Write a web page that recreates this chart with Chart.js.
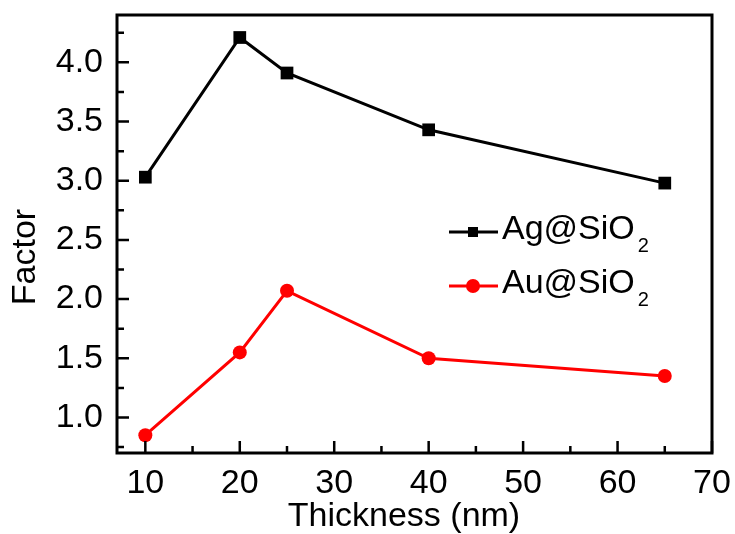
<!DOCTYPE html>
<html>
<head>
<meta charset="utf-8">
<script src="https://cdn.jsdelivr.net/npm/chart.js@4"></script>
<style>
  html, body { margin: 0; padding: 0; background: #fff; }
  #wrap { width: 735px; height: 534px; }
</style>
</head>
<body>
<div id="wrap"><canvas id="c" width="735" height="534"></canvas></div>
<script>
// data
const thickness = [10, 20, 25, 40, 65];
const agFactor = [3.03, 4.21, 3.91, 3.43, 2.98];
const auFactor = [0.85, 1.55, 2.07, 1.50, 1.35];
const xTicks = [10, 20, 30, 40, 50, 60, 70];
const yTicks = [1.0, 1.5, 2.0, 2.5, 3.0, 3.5, 4.0];
const xTitle = 'Thickness (nm)';
const yTitle = 'Factor';

const FONT = "'Liberation Sans', Arial, sans-serif";
const FS = 34;

const toPoints = (ys) => thickness.map((x, i) => ({ x: x, y: ys[i] }));

// frame + inward ticks, like the origin style plot
const frameTicks = {
  id: 'frameTicks',
  afterDatasetsDraw(chart) {
    const { ctx, chartArea: a, scales } = chart;
    ctx.save();
    ctx.strokeStyle = '#000';
    ctx.lineWidth = 3;
    ctx.strokeRect(a.left, a.top, a.right - a.left, a.bottom - a.top);
    ctx.lineWidth = 2.5;
    ctx.beginPath();
    for (let v = 5; v <= 70; v += 5) {
      if (v < scales.x.min || v > scales.x.max) continue;
      const px = scales.x.getPixelForValue(v);
      const len = v % 10 === 0 ? 12 : 7;
      ctx.moveTo(px, a.bottom);
      ctx.lineTo(px, a.bottom - len);
    }
    for (let v = 0.75; v <= 4.4; v += 0.25) {
      const py = scales.y.getPixelForValue(v);
      const len = Math.abs(v * 2 - Math.round(v * 2)) < 0.01 ? 12 : 7;
      ctx.moveTo(a.left, py);
      ctx.lineTo(a.left + len, py);
    }
    ctx.stroke();
    ctx.restore();
  }
};

// axis titles + legend with subscripts
const legendBox = {
  id: 'legendBox',
  afterDraw(chart) {
    const ctx = chart.ctx;
    ctx.save();
    ctx.fillStyle = '#000';
    ctx.font = FS + 'px ' + FONT;
    ctx.textAlign = 'center';
    ctx.textBaseline = 'alphabetic';
    ctx.fillText(xTitle, 404, 526);
    ctx.save();
    ctx.translate(35, 257);
    ctx.rotate(-Math.PI / 2);
    ctx.fillText(yTitle, 0, 0);
    ctx.restore();

    const rows = [
      { label: 'Ag@SiO', color: '#000', style: 'rect', y: 232 },
      { label: 'Au@SiO', color: '#ff0000', style: 'circle', y: 286 }
    ];
    rows.forEach(r => {
      ctx.strokeStyle = r.color;
      ctx.fillStyle = r.color;
      ctx.lineWidth = 3;
      ctx.beginPath();
      ctx.moveTo(449, r.y);
      ctx.lineTo(498, r.y);
      ctx.stroke();
      if (r.style === 'rect') {
        ctx.fillRect(468, r.y - 5, 10, 10);
      } else {
        ctx.beginPath();
        ctx.arc(473, r.y, 7, 0, Math.PI * 2);
        ctx.fill();
      }
      ctx.fillStyle = '#000';
      ctx.textBaseline = 'alphabetic';
      ctx.textAlign = 'left';
      ctx.font = FS + 'px ' + FONT;
      ctx.fillText(r.label, 502, r.y + 7);
      const w = ctx.measureText(r.label).width;
      ctx.font = '20px ' + FONT;
      ctx.fillText('2', 502 + w + 3, r.y + 20);
    });
    ctx.restore();
  }
};

new Chart(document.getElementById('c'), {
  type: 'line',
  data: {
    datasets: [
      {
        label: 'Ag@SiO2',
        data: toPoints(agFactor),
        borderColor: '#000',
        backgroundColor: '#000',
        borderWidth: 3,
        pointStyle: 'rect',
        pointRadius: 9,
        pointBorderWidth: 0,
        tension: 0
      },
      {
        label: 'Au@SiO2',
        data: toPoints(auFactor),
        borderColor: '#ff0000',
        backgroundColor: '#ff0000',
        borderWidth: 3,
        pointStyle: 'circle',
        pointRadius: 7,
        pointBorderWidth: 0,
        tension: 0
      }
    ]
  },
  options: {
    responsive: false,
    animation: false,
    layout: { padding: { left: 0, top: 15, right: 23, bottom: 0 } },
    plugins: {
      legend: { display: false },
      tooltip: { enabled: false }
    },
    scales: {
      x: {
        type: 'linear',
        min: 7,
        max: 70,
        afterFit(s) { s.height = 81; s.paddingLeft = 0; s.paddingRight = 0; },
        afterBuildTicks(s) { s.ticks = xTicks.map(v => ({ value: v })); },
        grid: { drawOnChartArea: false, drawTicks: false },
        border: { display: false },
        ticks: {
          color: '#000',
          font: { family: FONT, size: FS },
          padding: 10,
          maxRotation: 0,
          autoSkip: false
        },
        title: { display: false }
      },
      y: {
        min: 0.7,
        max: 4.4,
        afterFit(s) { s.width = 117; s.paddingTop = 0; s.paddingBottom = 0; },
        afterBuildTicks(s) { s.ticks = yTicks.map(v => ({ value: v })); },
        grid: { drawOnChartArea: false, drawTicks: false },
        border: { display: false },
        ticks: {
          color: '#000',
          font: { family: FONT, size: FS },
          padding: 14,
          callback: (v) => Number(v).toFixed(1)
        },
        title: { display: false }
      }
    }
  },
  plugins: [frameTicks, legendBox]
});
</script>
</body>
</html>
